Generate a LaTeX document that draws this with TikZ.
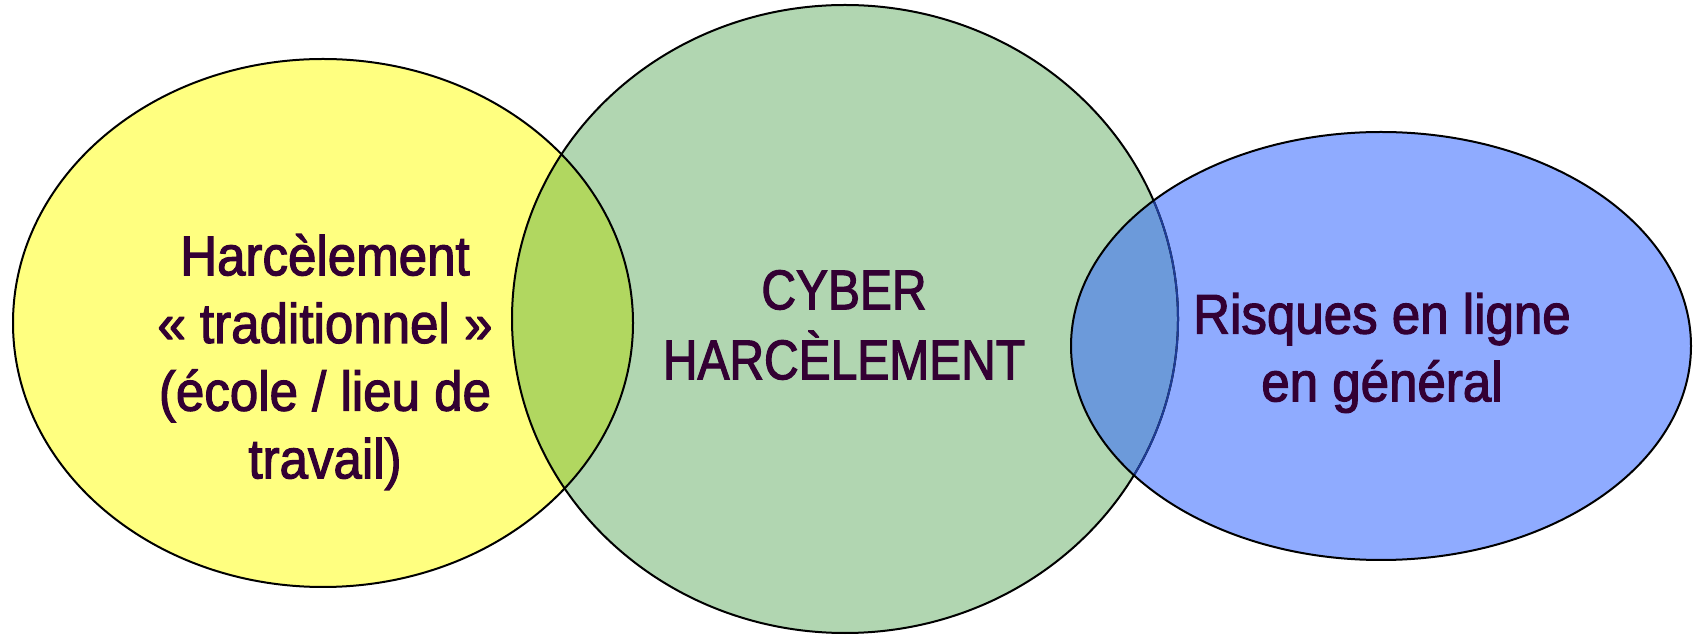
\documentclass[tikz,border=0pt]{standalone}
\usepackage{fontspec}
\setmainfont{Liberation Sans}
\newfontfamily\lowfont[FakeStretch=0.912,FakeBold=2]{Liberation Sans}
\newfontfamily\capfont[FakeStretch=0.856,FakeBold=2]{Liberation Sans}
\definecolor{yel}{HTML}{FFFF80}
\definecolor{grn}{HTML}{B1D6B1}
\definecolor{limeov}{HTML}{B1D760}
\definecolor{blu}{HTML}{8FABFF}
\definecolor{blueov}{HTML}{6C9ADA}
\definecolor{navyedge}{HTML}{1E3C96}
\definecolor{textc}{HTML}{330033}
\tikzset{
  outline/.style={draw=black, line width=1pt},
  lbl/.style={text=textc, align=center, inner sep=0pt},
  lowtxt/.style={lbl, font=\lowfont\fontsize{28pt}{33.85pt}\selectfont},
  captxt/.style={lbl, font=\capfont\fontsize{28pt}{35pt}\selectfont},
}
\def\yell{(323,323) ellipse [x radius=155pt, y radius=132pt]}
\def\gree{(845,319) ellipse [x radius=166.5pt, y radius=157pt]}
\def\bluel{(1381,346) ellipse [x radius=155pt, y radius=107pt]}
\begin{document}
\begin{tikzpicture}[x=0.5pt,y=-0.5pt]
\useasboundingbox (0,0) rectangle (1697,635);
\fill[yel] \yell;
\fill[grn] \gree;
\begin{scope}
  \clip \yell;
  \fill[limeov] \gree;
\end{scope}
\fill[blu] \bluel;
\begin{scope}
  \clip \bluel;
  \fill[blueov] \gree;
\end{scope}
\draw[outline] \yell;
\draw[outline] \gree;
\begin{scope}
  \clip \bluel;
  \draw[outline, draw=navyedge] \gree;
\end{scope}
\draw[outline] \bluel;
\node[lowtxt] (trad) at (325,362) {Harcèlement\\« traditionnel »\\(école / lieu de\\travail)};
\node[captxt] (cyber) at (844,325) {CYBER\\HARCÈLEMENT};
\node[lowtxt] (risk) at (1382,353) {Risques en ligne\\en général};
\end{tikzpicture}
\end{document}
